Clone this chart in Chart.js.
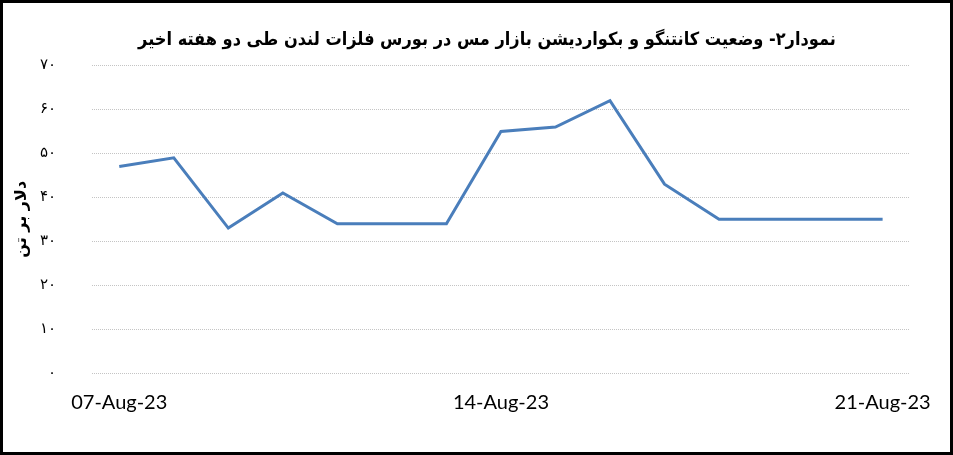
<!DOCTYPE html>
<html>
<head>
<meta charset="utf-8">
<script src="https://cdn.jsdelivr.net/npm/chart.js@4"></script>
<style>
  body { margin: 0; background: #fff; }
  #wrap { width: 953px; height: 455px; box-sizing: border-box; border: 3px solid #000; background: #fff; }
  #chart { display: block; }
</style>
</head>
<body>
<div id="wrap"><canvas id="chart" width="947" height="449"></canvas></div>
<script>
const titleText = 'نمودار۲- وضعیت کانتنگو و بکواردیشن بازار مس در بورس فلزات لندن طی دو هفته اخیر'
const yAxisTitle = 'دلار بر تن'

const dates = ['07-Aug-23', '08-Aug-23', '09-Aug-23', '10-Aug-23', '11-Aug-23', '12-Aug-23', '13-Aug-23',
  '14-Aug-23', '15-Aug-23', '16-Aug-23', '17-Aug-23', '18-Aug-23', '19-Aug-23', '20-Aug-23', '21-Aug-23']
const spread = [47, 49, 33, 41, 34, 34, 34, 55, 56, 62, 43, 35, 35, 35, 35]
const shownDates = ['07-Aug-23', '14-Aug-23', '21-Aug-23']
const yTickLabels = ['۰', '۱۰', '۲۰', '۳۰', '۴۰', '۵۰', '۶۰', '۷۰']

// nudge the title so it sits where the original one does
const titleShift = {
  id: 'titleShift',
  afterLayout(chart) {
    const t = chart.titleBlock
    const d = 484 - (t.left + t.right) / 2
    t.left += d
    t.right += d
  }
}

new Chart(document.getElementById('chart'), {
  type: 'line',
  data: {
    labels: dates,
    datasets: [{
      data: spread,
      borderColor: '#4A7EBB',
      borderWidth: 3,
      pointRadius: 0,
      tension: 0,
      fill: false
    }]
  },
  options: {
    responsive: false,
    animation: false,
    layout: { padding: { left: 0, right: 40, top: 0, bottom: 0 } },
    plugins: {
      legend: { display: false },
      tooltip: { enabled: false },
      title: {
        display: true,
        text: titleText,
        color: '#000',
        font: { family: 'DejaVu Sans Condensed', size: 18, weight: 'bold' },
        padding: { top: 27, bottom: 14 }
      }
    },
    scales: {
      x: {
        offset: true,
        grid: { display: false, drawTicks: false },
        border: { display: false },
        ticks: {
          autoSkip: false,
          maxRotation: 0,
          minRotation: 0,
          padding: 18,
          color: '#000',
          font: { family: 'Lato', size: 20 },
          callback: (v, i) => shownDates.includes(dates[i]) ? dates[i] : ''
        },
        afterFit: (s) => { s.height = 79 }
      },
      y: {
        min: 0,
        max: 70,
        grid: { color: '#c4c4c4', lineWidth: 1, drawTicks: false },
        border: { display: false, dash: [1, 1] },
        ticks: {
          stepSize: 10,
          padding: 36,
          color: '#000',
          font: { family: 'DejaVu Sans', size: 15 },
          callback: (v) => yTickLabels[v / 10]
        },
        title: {
          display: true,
          text: yAxisTitle,
          color: '#000',
          font: { family: 'DejaVu Sans', size: 16, weight: 'bold' },
          padding: { top: 9, bottom: 0 }
        },
        afterFit: (s) => { s.width = 89 }
      }
    }
  },
  plugins: [titleShift]
})
</script>
</body>
</html>
